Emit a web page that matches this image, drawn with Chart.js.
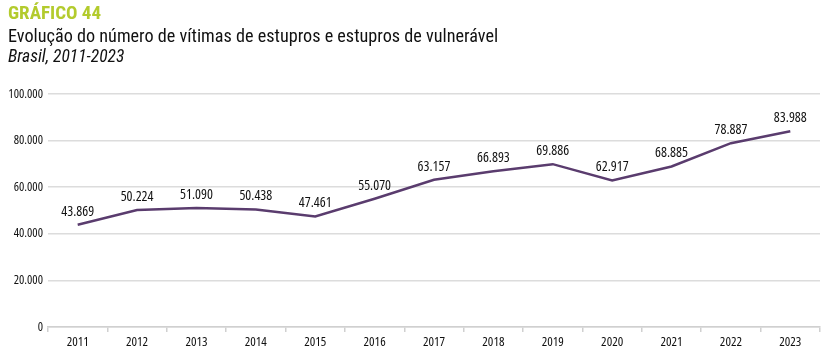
<!DOCTYPE html>
<html><head><meta charset="utf-8">
<script src="https://cdn.jsdelivr.net/npm/chart.js@4/dist/chart.umd.min.js"></script>
<style>
html,body{margin:0;padding:0;background:#fff;}
#wrap{position:relative;width:827px;height:354px;overflow:hidden;}
canvas{position:absolute;left:0;top:0;}
.t{position:absolute;left:8px;white-space:nowrap;font-family:Roboto,sans-serif;font-stretch:75%;line-height:1;}
#t1{top:3px;font-size:19px;font-weight:bold;color:#b3cb2d;}
#t2{top:27px;font-size:18.2px;color:#111;}
#t3{top:48px;font-size:17.5px;font-style:italic;color:#111;}
</style></head>
<body><div id="wrap">
<canvas id="c" width="827" height="354"></canvas>
<div class="t" id="t1">GRÁFICO 44</div>
<div class="t" id="t2">Evolução do número de vítimas de estupros e estupros de vulnerável</div>
<div class="t" id="t3">Brasil, 2011-2023</div>
</div>
<script>
const years = ["2011","2012","2013","2014","2015","2016","2017","2018","2019","2020","2021","2022","2023"];
const victims = [43869,50224,51090,50438,47461,55070,63157,66893,69886,62917,68885,78887,83988];
const yTicks = [0,20000,40000,60000,80000,100000];

function fmt(v){ return String(Math.round(v)).replace(/\B(?=(\d{3})+(?!\d))/g,"."); }
const FONT = '"Open Sans", sans-serif';

const labelPlugin = {
  id:'labels',
  afterDatasetsDraw(chart){
    const ctx = chart.ctx;
    const meta = chart.getDatasetMeta(0);
    ctx.save();
    ctx.font = 'condensed 14px ' + FONT;
    ctx.fillStyle = '#111';
    ctx.textAlign = 'center';
    ctx.textBaseline = 'alphabetic';
    meta.data.forEach((p,i)=>{
      ctx.fillText(fmt(chart.data.datasets[0].data[i]), p.x, p.y - 9);
    });
    ctx.restore();
  }
};

new Chart(document.getElementById('c'), {
  type:'line',
  data:{labels:years, datasets:[{data:victims, borderColor:'#5a3c6e', borderWidth:2.5, pointRadius:0, tension:0, fill:false}]},
  options:{
    responsive:false, animation:false,
    layout:{padding:{top:94,right:7,left:0,bottom:0}},
    plugins:{legend:{display:false},tooltip:{enabled:false},title:{display:false}},
    scales:{
      x:{
        offset:true,
        grid:{display:true,drawOnChartArea:false,drawTicks:true,tickLength:5,offset:true,color:'#d0d0d0',lineWidth:1.5},
        border:{display:true,color:'#d0d0d0',width:1.5},
        ticks:{color:'#111',font:{family:FONT,size:13,weight:'condensed'},padding:2,maxRotation:0,autoSkip:false},
        afterFit(s){ s.height = 27; }
      },
      y:{
        min:0,max:100000,
        afterBuildTicks(s){ s.ticks = yTicks.map(v=>({value:v})); },
        grid:{color:'#dcdcdc',lineWidth:1.5,drawTicks:false},
        border:{display:false},
        ticks:{color:'#111',font:{family:FONT,size:12.5,weight:'condensed'},padding:5,callback:v=>fmt(v)},
        afterFit(s){ s.width = 48; }
      }
    }
  },
  plugins:[labelPlugin]
});
</script>
</body></html>
